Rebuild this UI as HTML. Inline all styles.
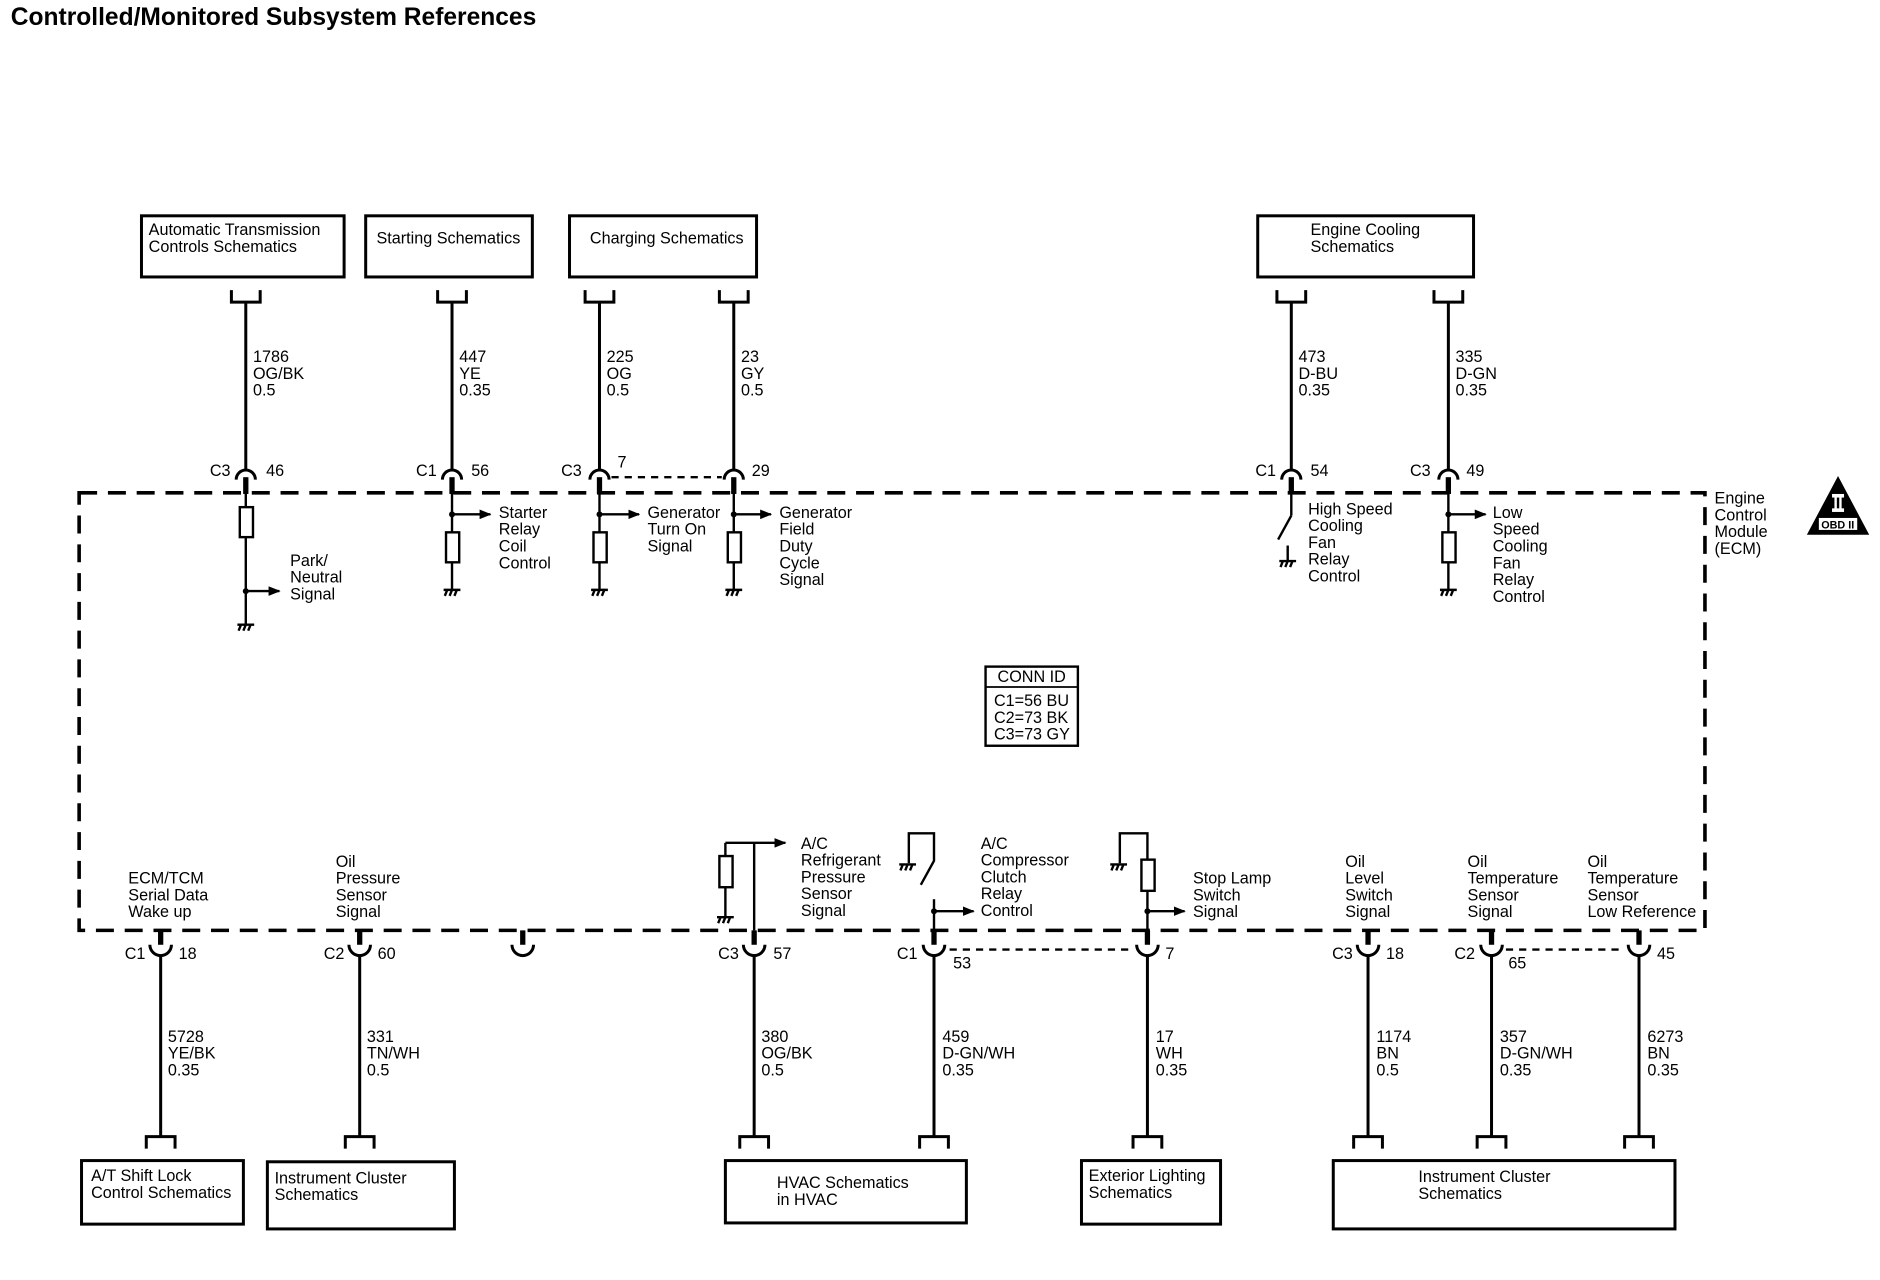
<!DOCTYPE html>
<html><head><meta charset="utf-8"><style>
html,body{margin:0;padding:0;background:#fff;}
svg{display:block;}
text{font-family:"Liberation Sans",sans-serif;font-size:13.5px;fill:#000;}
</style></head><body>
<svg width="1880" height="1280" viewBox="0 0 1568 1067.6" preserveAspectRatio="none" xmlns="http://www.w3.org/2000/svg">
<defs>
<marker id="ar" markerWidth="10" markerHeight="8" refX="9" refY="4" orient="auto" markerUnits="userSpaceOnUse"><path d="M0,0 L10,4 L0,8 Z" fill="#000"/></marker>
<g id="gnd"><path d="M-7,0 L7,0 M-6,5 L-4,0 M-2,5 L0,0 M2,5 L4,0" stroke="#000" stroke-width="2" fill="none"/></g>
<g id="tcon"><path d="M-8,400 A8,8 0 0 1 8,400" stroke="#000" stroke-width="2.5" fill="none"/><rect x="-2.2" y="398" width="4.4" height="14" fill="#000"/></g>
<g id="bcon"><path d="M-9,788 A9,9 0 0 0 9,788" stroke="#000" stroke-width="2.5" fill="none"/><rect x="-2.2" y="776" width="4.4" height="12" fill="#000"/></g>
<g id="tbr"><path d="M-12,242 L-12,252 L12,252 L12,242" stroke="#000" stroke-width="2.5" fill="none"/></g>
<g id="bbr"><path d="M-12,958 L-12,948 L12,948 L12,958" stroke="#000" stroke-width="2.5" fill="none"/></g>
</defs>
<text x="9" y="21" style="font-size:20.5px;font-weight:bold">Controlled/Monitored Subsystem References</text>

<g stroke="#000" stroke-width="2.5" fill="none">
<rect x="118" y="180" width="169" height="51"/>
<rect x="305" y="180" width="139" height="51"/>
<rect x="475" y="180" width="156" height="51"/>
<rect x="1049" y="180" width="180" height="51"/>
<rect x="68" y="968" width="135" height="53"/>
<rect x="223" y="969" width="156" height="56"/>
<rect x="605" y="968" width="201" height="52"/>
<rect x="902" y="968" width="116" height="53"/>
<rect x="1112" y="968" width="285" height="57"/>
</g>
<text x="124" y="196">Automatic Transmission</text><text x="124" y="210">Controls Schematics</text>
<text x="314" y="203">Starting Schematics</text>
<text x="492" y="203">Charging Schematics</text>
<text x="1093" y="196">Engine Cooling</text><text x="1093" y="210">Schematics</text>

<rect x="66" y="411" width="1356" height="365" stroke="#000" stroke-width="3" stroke-dasharray="15,9" fill="none"/>

<g stroke="#000" stroke-width="2.5">
<line x1="205" y1="252" x2="205" y2="392"/><line x1="377" y1="252" x2="377" y2="392"/>
<line x1="500" y1="252" x2="500" y2="392"/><line x1="612" y1="252" x2="612" y2="392"/>
<line x1="1077" y1="252" x2="1077" y2="392"/><line x1="1208" y1="252" x2="1208" y2="392"/>
</g>
<use href="#tbr" x="205"/><use href="#tbr" x="377"/><use href="#tbr" x="500"/><use href="#tbr" x="612"/><use href="#tbr" x="1077"/><use href="#tbr" x="1208"/>
<use href="#tcon" x="205"/><use href="#tcon" x="377"/><use href="#tcon" x="500"/><use href="#tcon" x="612"/><use href="#tcon" x="1077"/><use href="#tcon" x="1208"/>
<line x1="510" y1="398" x2="602" y2="398" stroke="#000" stroke-width="2" stroke-dasharray="6,5"/>
<text x="211" y="302">1786</text><text x="211" y="316">OG/BK</text><text x="211" y="330">0.5</text>
<text x="383" y="302">447</text><text x="383" y="316">YE</text><text x="383" y="330">0.35</text>
<text x="506" y="302">225</text><text x="506" y="316">OG</text><text x="506" y="330">0.5</text>
<text x="618" y="302">23</text><text x="618" y="316">GY</text><text x="618" y="330">0.5</text>
<text x="1083" y="302">473</text><text x="1083" y="316">D-BU</text><text x="1083" y="330">0.35</text>
<text x="1214" y="302">335</text><text x="1214" y="316">D-GN</text><text x="1214" y="330">0.35</text>
<text x="175" y="397">C3</text><text x="222" y="397">46</text>
<text x="347" y="397">C1</text><text x="393" y="397">56</text>
<text x="468" y="397">C3</text><text x="515" y="390">7</text>
<text x="627" y="397">29</text>
<text x="1047" y="397">C1</text><text x="1093" y="397">54</text>
<text x="1176" y="397">C3</text><text x="1223" y="397">49</text>

<g stroke="#000" stroke-width="2" fill="#fff">
<line x1="205" y1="411" x2="205" y2="520"/>
<rect x="200" y="423" width="11" height="25"/>
<line x1="205" y1="493" x2="233" y2="493" marker-end="url(#ar)"/>
<line x1="377" y1="411" x2="377" y2="492"/>
<rect x="372" y="444" width="11" height="25"/>
<line x1="377" y1="429" x2="409" y2="429" marker-end="url(#ar)"/>
<line x1="500" y1="411" x2="500" y2="492"/>
<rect x="495" y="444" width="11" height="25"/>
<line x1="500" y1="429" x2="533" y2="429" marker-end="url(#ar)"/>
<line x1="612" y1="411" x2="612" y2="492"/>
<rect x="607" y="444" width="11" height="25"/>
<line x1="612" y1="429" x2="643" y2="429" marker-end="url(#ar)"/>
<line x1="1208" y1="411" x2="1208" y2="492"/>
<rect x="1203" y="444" width="11" height="25"/>
<line x1="1208" y1="429" x2="1239" y2="429" marker-end="url(#ar)"/>
<line x1="1077" y1="411" x2="1077" y2="430"/>
<line x1="1077" y1="430" x2="1066" y2="450"/>
<line x1="1074" y1="455" x2="1074" y2="468"/>
</g>
<g fill="#000"><circle cx="205" cy="493" r="2.5"/><circle cx="377" cy="429" r="2.5"/><circle cx="500" cy="429" r="2.5"/><circle cx="612" cy="429" r="2.5"/><circle cx="1208" cy="429" r="2.5"/></g>
<use href="#gnd" x="205" y="521"/><use href="#gnd" x="377" y="492"/><use href="#gnd" x="500" y="492"/><use href="#gnd" x="612" y="492"/><use href="#gnd" x="1208" y="492"/><use href="#gnd" x="1074" y="468"/>
<text x="242" y="472">Park/</text><text x="242" y="486">Neutral</text><text x="242" y="500">Signal</text>
<text x="416" y="432">Starter</text><text x="416" y="446">Relay</text><text x="416" y="460">Coil</text><text x="416" y="474">Control</text>
<text x="540" y="432">Generator</text><text x="540" y="446">Turn On</text><text x="540" y="460">Signal</text>
<text x="650" y="432">Generator</text><text x="650" y="446">Field</text><text x="650" y="460">Duty</text><text x="650" y="474">Cycle</text><text x="650" y="488">Signal</text>
<text x="1091" y="429">High Speed</text><text x="1091" y="443">Cooling</text><text x="1091" y="457">Fan</text><text x="1091" y="471">Relay</text><text x="1091" y="485">Control</text>
<text x="1245" y="432">Low</text><text x="1245" y="446">Speed</text><text x="1245" y="460">Cooling</text><text x="1245" y="474">Fan</text><text x="1245" y="488">Relay</text><text x="1245" y="502">Control</text>
<text x="1430" y="420">Engine</text><text x="1430" y="434">Control</text><text x="1430" y="448">Module</text><text x="1430" y="462">(ECM)</text>
<path d="M1533,397 L1559,446 L1507,446 Z" fill="#000"/>
<rect x="1517" y="432" width="32" height="10" fill="#fff"/>
<text x="1519" y="441" style="font-size:9px;font-weight:bold">OBD II</text>
<rect x="1528" y="412" width="10" height="3" fill="#fff"/><rect x="1528" y="424" width="10" height="3" fill="#fff"/><rect x="1530" y="414" width="2" height="11" fill="#fff"/><rect x="1534" y="414" width="2" height="11" fill="#fff"/>

<rect x="822" y="556" width="77" height="66" stroke="#000" stroke-width="2" fill="none"/>
<line x1="822" y1="573" x2="899" y2="573" stroke="#000" stroke-width="1.5"/>
<text x="832" y="569">CONN ID</text>
<text x="829" y="589">C1=56 BU</text><text x="829" y="603">C2=73 BK</text><text x="829" y="617">C3=73 GY</text>

<g stroke="#000" stroke-width="2" fill="#fff">
<line x1="629" y1="776" x2="629" y2="703"/>
<line x1="605" y1="703" x2="655" y2="703" marker-end="url(#ar)"/>
<line x1="605" y1="703" x2="605" y2="765"/>
<rect x="600" y="714" width="11" height="26"/>
<path d="M758,720 L758,695 L779,695 L779,718 L768,738" fill="none"/>
<line x1="779" y1="750" x2="779" y2="776"/>
<line x1="779" y1="760" x2="812" y2="760" marker-end="url(#ar)"/>
<path d="M934,720 L934,695 L957,695 L957,776" fill="none"/>
<rect x="952" y="717" width="11" height="26"/>
<line x1="957" y1="760" x2="988" y2="760" marker-end="url(#ar)"/>
</g>
<g fill="#000"><circle cx="779" cy="760" r="2.5"/><circle cx="957" cy="760" r="2.5"/></g>
<use href="#gnd" x="605" y="765"/><use href="#gnd" x="757" y="721"/><use href="#gnd" x="933" y="721"/>
<text x="107" y="737">ECM/TCM</text><text x="107" y="751">Serial Data</text><text x="107" y="765">Wake up</text>
<text x="280" y="723">Oil</text><text x="280" y="737">Pressure</text><text x="280" y="751">Sensor</text><text x="280" y="765">Signal</text>
<text x="668" y="708">A/C</text><text x="668" y="722">Refrigerant</text><text x="668" y="736">Pressure</text><text x="668" y="750">Sensor</text><text x="668" y="764">Signal</text>
<text x="818" y="708">A/C</text><text x="818" y="722">Compressor</text><text x="818" y="736">Clutch</text><text x="818" y="750">Relay</text><text x="818" y="764">Control</text>
<text x="995" y="737">Stop Lamp</text><text x="995" y="751">Switch</text><text x="995" y="765">Signal</text>
<text x="1122" y="723">Oil</text><text x="1122" y="737">Level</text><text x="1122" y="751">Switch</text><text x="1122" y="765">Signal</text>
<text x="1224" y="723">Oil</text><text x="1224" y="737">Temperature</text><text x="1224" y="751">Sensor</text><text x="1224" y="765">Signal</text>
<text x="1324" y="723">Oil</text><text x="1324" y="737">Temperature</text><text x="1324" y="751">Sensor</text><text x="1324" y="765">Low Reference</text>

<g stroke="#000" stroke-width="2.5">
<line x1="134" y1="796" x2="134" y2="948"/><line x1="300" y1="796" x2="300" y2="948"/>
<line x1="629" y1="796" x2="629" y2="948"/><line x1="779" y1="796" x2="779" y2="948"/>
<line x1="957" y1="796" x2="957" y2="948"/><line x1="1141" y1="796" x2="1141" y2="948"/>
<line x1="1244" y1="796" x2="1244" y2="948"/><line x1="1367" y1="796" x2="1367" y2="948"/>
</g>
<use href="#bcon" x="134"/><use href="#bcon" x="300"/><use href="#bcon" x="436"/><use href="#bcon" x="629"/><use href="#bcon" x="779"/><use href="#bcon" x="957"/><use href="#bcon" x="1141"/><use href="#bcon" x="1244"/><use href="#bcon" x="1367"/>
<use href="#bbr" x="134"/><use href="#bbr" x="300"/><use href="#bbr" x="629"/><use href="#bbr" x="779"/><use href="#bbr" x="957"/><use href="#bbr" x="1141"/><use href="#bbr" x="1244"/><use href="#bbr" x="1367"/>
<line x1="792" y1="792" x2="945" y2="792" stroke="#000" stroke-width="2" stroke-dasharray="6,5"/>
<line x1="1256" y1="792" x2="1355" y2="792" stroke="#000" stroke-width="2" stroke-dasharray="6,5"/>
<text x="104" y="800">C1</text><text x="149" y="800">18</text>
<text x="270" y="800">C2</text><text x="315" y="800">60</text>
<text x="599" y="800">C3</text><text x="645" y="800">57</text>
<text x="748" y="800">C1</text><text x="795" y="808">53</text>
<text x="972" y="800">7</text>
<text x="1111" y="800">C3</text><text x="1156" y="800">18</text>
<text x="1213" y="800">C2</text><text x="1258" y="808">65</text>
<text x="1382" y="800">45</text>
<text x="140" y="869">5728</text><text x="140" y="883">YE/BK</text><text x="140" y="897">0.35</text>
<text x="306" y="869">331</text><text x="306" y="883">TN/WH</text><text x="306" y="897">0.5</text>
<text x="635" y="869">380</text><text x="635" y="883">OG/BK</text><text x="635" y="897">0.5</text>
<text x="786" y="869">459</text><text x="786" y="883">D-GN/WH</text><text x="786" y="897">0.35</text>
<text x="964" y="869">17</text><text x="964" y="883">WH</text><text x="964" y="897">0.35</text>
<text x="1148" y="869">1174</text><text x="1148" y="883">BN</text><text x="1148" y="897">0.5</text>
<text x="1251" y="869">357</text><text x="1251" y="883">D-GN/WH</text><text x="1251" y="897">0.35</text>
<text x="1374" y="869">6273</text><text x="1374" y="883">BN</text><text x="1374" y="897">0.35</text>

<text x="76" y="985">A/T Shift Lock</text><text x="76" y="999">Control Schematics</text>
<text x="229" y="987">Instrument Cluster</text><text x="229" y="1001">Schematics</text>
<text x="648" y="991">HVAC Schematics</text><text x="648" y="1005">in HVAC</text>
<text x="908" y="985">Exterior Lighting</text><text x="908" y="999">Schematics</text>
<text x="1183" y="986">Instrument Cluster</text><text x="1183" y="1000">Schematics</text>
</svg>
</body></html>
